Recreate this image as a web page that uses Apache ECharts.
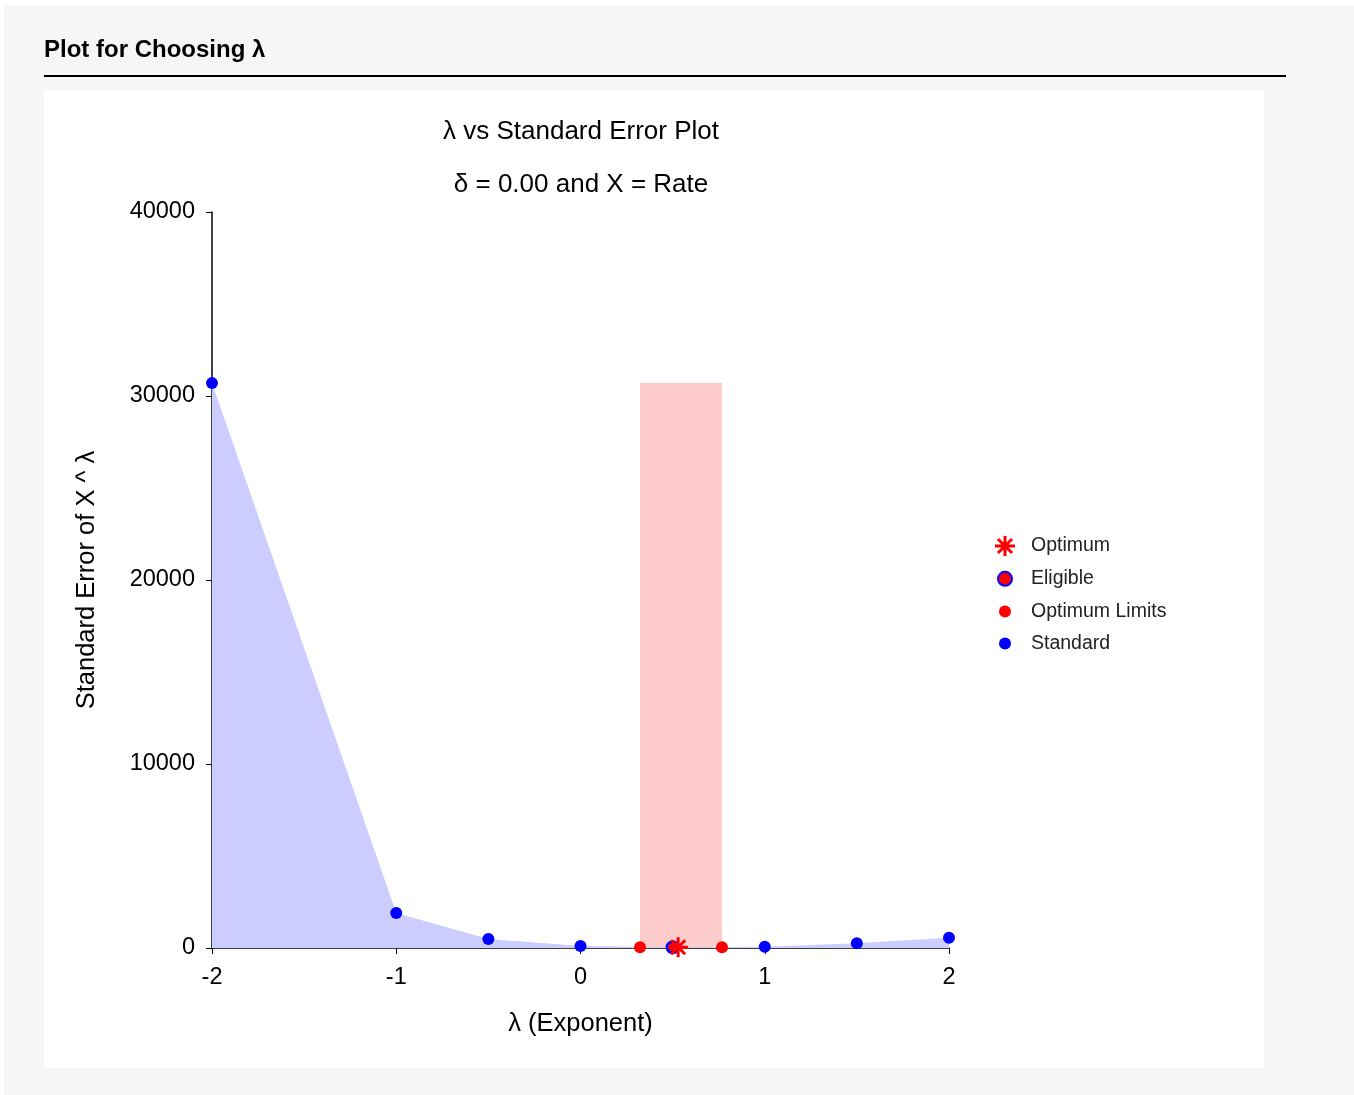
<!DOCTYPE html>
<html>
<head>
<meta charset="utf-8">
<script src="https://cdn.jsdelivr.net/npm/echarts@6/dist/echarts.min.js"></script>
<style>
html,body{margin:0;padding:0;background:#fff;}
#chart{width:1354px;height:1095px;}
</style>
</head>
<body>
<div id="chart"></div>
<script>
// ---- data ----
const lambdaValues = [-2, -1, -0.5, 0, 0.5, 1, 1.5, 2];
const standardErrors = [30700, 1900, 490, 110, 40, 70, 255, 560];
const optimumLimitLambdas = [0.323, 0.768];
const optimumLimitErrors = [40, 40];
const eligibleLambdas = [0.5];
const eligibleErrors = [40];
const optimumLambda = [0.53];
const optimumError = [40];
const xTicks = [-2, -1, 0, 1, 2];
const yTicks = [0, 10000, 20000, 30000, 40000];

const pairs = (xs, ys) => xs.map((x, i) => [x, ys[i]]);
const standardData = pairs(lambdaValues, standardErrors);
const maxErr = Math.max(...standardErrors);

const FONT = '"Liberation Sans", Arial, sans-serif';
const asterisk = 'path://M-1.5,-10L1.5,-10L1.5,10L-1.5,10Z M-10,-1.5L10,-1.5L10,1.5L-10,1.5Z M-8.1,-6L-6,-8.1L8.1,6L6,8.1Z M6,-8.1L8.1,-6L-6,8.1L-8.1,6Z';
// circle icons padded inside a 20x20 box (zero-length marks at the corners set the box)
const padCircle = r => 'path://M-10,-10L-10,-10 M10,10L10,10 M' + (-r) + ',0A' + r + ',' + r + ',0,1,0,' + r + ',0A' + r + ',' + r + ',0,1,0,' + (-r) + ',0Z';

const chart = echarts.init(document.getElementById('chart'), null, {renderer: 'canvas'});
chart.setOption({
  animation: false,
  textStyle: {fontFamily: FONT},
  graphic: [
    {type: 'rect', shape: {x: 4, y: 6, width: 1350, height: 1089}, style: {fill: '#f6f6f6'}, z: -10},
    {type: 'rect', shape: {x: 44, y: 90, width: 1220, height: 978}, style: {fill: '#ffffff'}, z: -9},
    {type: 'text', x: 44, y: 50, style: {text: 'Plot for Choosing λ', font: 'bold 24px ' + FONT, fill: '#000', textVerticalAlign: 'middle'}},
    {type: 'rect', shape: {x: 44, y: 75, width: 1242, height: 2}, style: {fill: '#000'}},
    {type: 'text', x: 581, y: 132, style: {text: 'λ vs Standard Error Plot', font: '26px ' + FONT, fill: '#000', textAlign: 'center', textVerticalAlign: 'middle'}},
    {type: 'text', x: 581, y: 185, style: {text: 'δ = 0.00 and X = Rate', font: '26px ' + FONT, fill: '#000', textAlign: 'center', textVerticalAlign: 'middle'}}
  ],
  legend: {
    orient: 'vertical',
    left: 989,
    top: 531,
    itemGap: 11.8,
    itemWidth: 42,
    itemHeight: 20,
    symbolKeepAspect: true,
    textStyle: {fontSize: 19.5, color: '#222', fontFamily: FONT},
    data: [
      {name: 'Optimum', icon: asterisk},
      {name: 'Eligible', icon: padCircle(7)},
      {name: 'Optimum Limits', icon: padCircle(6)},
      {name: 'Standard', icon: padCircle(6)}
    ]
  },
  grid: {left: 212, right: 405, top: 212, bottom: 147, containLabel: false},
  xAxis: {
    type: 'value', min: -2, max: 2, interval: 1,
    name: 'λ (Exponent)', nameLocation: 'middle', nameGap: 63,
    nameTextStyle: {fontSize: 25.5, color: '#000', fontFamily: FONT},
    axisLine: {onZero: false, lineStyle: {color: '#000', width: 1.5}},
    axisTick: {length: 6, lineStyle: {color: '#000'}},
    axisLabel: {fontSize: 23.5, color: '#000', margin: 18, fontFamily: FONT},
    splitLine: {show: false}
  },
  yAxis: {
    type: 'value', min: 0, max: 40000, interval: 10000,
    name: 'Standard Error of X ^ λ', nameLocation: 'middle', nameGap: 112,
    nameTextStyle: {fontSize: 25.5, color: '#000', fontFamily: FONT},
    axisLine: {show: true, onZero: false, lineStyle: {color: '#000', width: 1.5}},
    axisTick: {show: true, length: 6, lineStyle: {color: '#000'}},
    axisLabel: {fontSize: 23.5, color: '#000', margin: 17, fontFamily: FONT, formatter: v => String(v)},
    splitLine: {show: false}
  },
  series: [
    {
      name: 'area', type: 'line', data: standardData, symbol: 'none',
      lineStyle: {width: 0}, areaStyle: {color: '#ccccff', opacity: 1}, z: 1,
      silent: true
    },
    {
      name: 'band', type: 'line', data: [], z: 2, silent: true,
      markArea: {
        silent: true,
        itemStyle: {color: '#ffcccc', opacity: 1},
        data: [[{coord: [optimumLimitLambdas[0], 0]}, {coord: [optimumLimitLambdas[1], maxErr]}]]
      }
    },
    {
      name: 'Standard', type: 'scatter', data: standardData, symbolSize: 12,
      itemStyle: {color: '#0000ff', opacity: 1}, z: 5
    },
    {
      name: 'Optimum Limits', type: 'scatter', data: pairs(optimumLimitLambdas, optimumLimitErrors), symbolSize: 12,
      itemStyle: {color: '#ff0000', opacity: 1}, z: 6
    },
    {
      name: 'Eligible', type: 'scatter', data: pairs(eligibleLambdas, eligibleErrors), symbolSize: 11,
      itemStyle: {color: '#ff0000', borderColor: '#0000ff', borderWidth: 3, opacity: 1}, z: 7
    },
    {
      name: 'Optimum', type: 'scatter', data: pairs(optimumLambda, optimumError), symbol: asterisk, symbolSize: 20,
      itemStyle: {color: '#ff0000', opacity: 1}, z: 8
    }
  ]
});
</script>
</body>
</html>
